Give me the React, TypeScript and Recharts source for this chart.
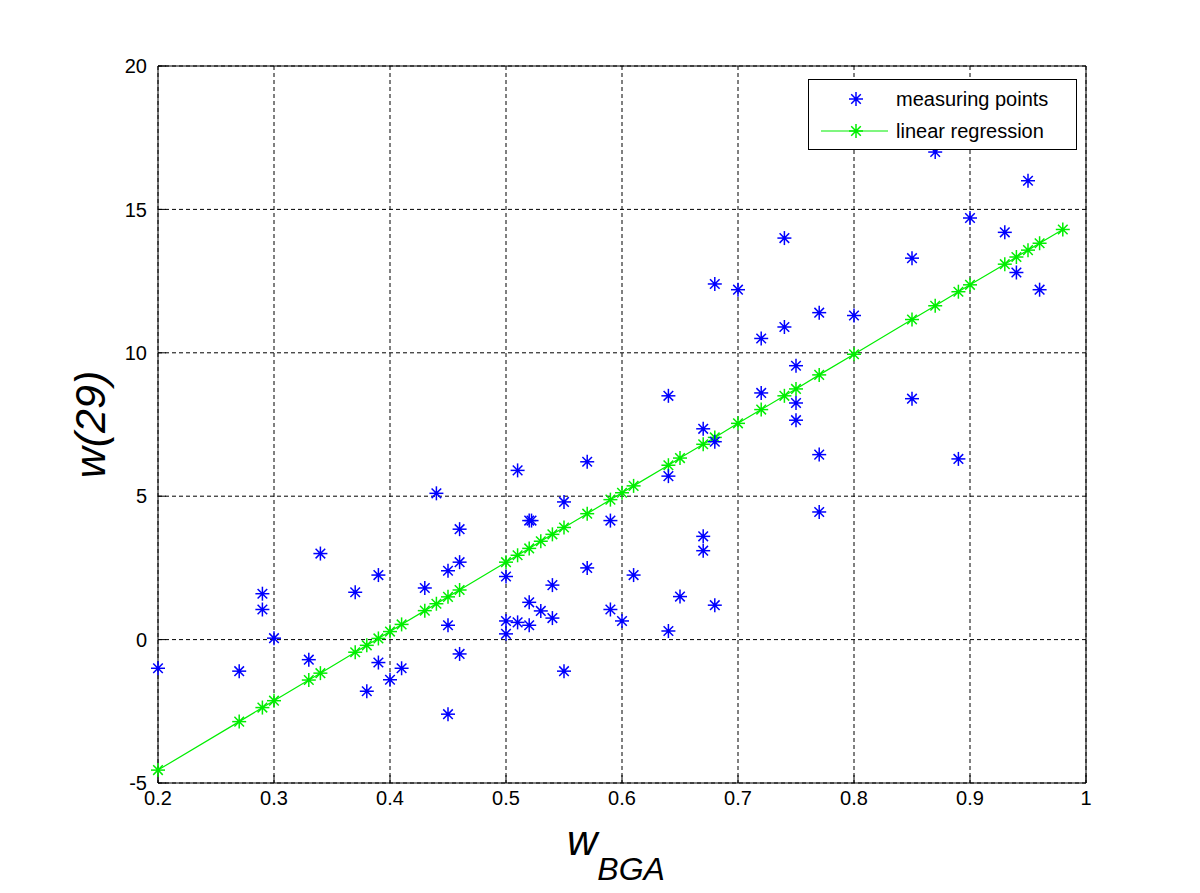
import { ScatterChart, Scatter, XAxis, YAxis, CartesianGrid, Legend } from 'recharts'

// measured points (w_BGA, w(29))
const measuredX = [
  0.2, 0.27, 0.29, 0.29, 0.3, 0.33, 0.34, 0.37, 0.38, 0.39, 0.39, 0.4, 0.41, 0.43, 0.44,
  0.45, 0.45, 0.45, 0.46, 0.46, 0.46, 0.5, 0.5, 0.5, 0.51, 0.51, 0.52, 0.522, 0.52, 0.52,
  0.53, 0.54, 0.54, 0.55, 0.55, 0.57, 0.57, 0.59, 0.59, 0.6, 0.61, 0.64, 0.64, 0.64, 0.65,
  0.67, 0.67, 0.67, 0.68, 0.68, 0.68, 0.7, 0.72, 0.72, 0.74, 0.74, 0.75, 0.75, 0.75, 0.77,
  0.77, 0.77, 0.8, 0.85, 0.85, 0.87, 0.89, 0.9, 0.93, 0.94, 0.95, 0.96,
]
const measuredY = [
  -1.0, -1.1, 1.6, 1.05, 0.05, -0.7, 3.0, 1.65, -1.8, 2.25, -0.8, -1.4, -1.0, 1.8, 5.1,
  2.4, 0.5, -2.6, 3.85, 2.7, -0.5, 2.2, 0.65, 0.2, 5.9, 0.6, 4.15, 4.15, 1.3, 0.5,
  1.0, 1.9, 0.75, 4.8, -1.1, 6.2, 2.5, 4.15, 1.05, 0.65, 2.25, 8.5, 5.7, 0.3, 1.5,
  7.35, 3.6, 3.1, 12.4, 6.9, 1.2, 12.2, 10.5, 8.6, 14.0, 10.9, 9.55, 8.25, 7.65, 11.4,
  6.45, 4.45, 11.3, 13.3, 8.4, 17.0, 6.3, 14.7, 14.2, 12.8, 16.0, 12.2,
]

// regression line
const fitX = [
  0.2, 0.27, 0.29, 0.3, 0.33, 0.34, 0.37, 0.38, 0.39, 0.4, 0.41, 0.43, 0.44, 0.45, 0.46,
  0.5, 0.51, 0.52, 0.53, 0.54, 0.55, 0.57, 0.59, 0.6, 0.61, 0.64, 0.65, 0.67, 0.68, 0.7,
  0.72, 0.74, 0.75, 0.77, 0.8, 0.85, 0.87, 0.89, 0.9, 0.93, 0.94, 0.95, 0.96, 0.98,
]
const fitY = [
  -4.55, -2.86, -2.37, -2.13, -1.41, -1.17, -0.44, -0.2, 0.04, 0.28, 0.53, 1.01, 1.25, 1.49, 1.73,
  2.7, 2.94, 3.18, 3.43, 3.67, 3.91, 4.39, 4.88, 5.12, 5.36, 6.08, 6.33, 6.81, 7.05, 7.54,
  8.02, 8.5, 8.74, 9.23, 9.95, 11.16, 11.64, 12.13, 12.37, 13.09, 13.34, 13.58, 13.82, 14.3,
]

const xTicks = [0.2, 0.3, 0.4, 0.5, 0.6, 0.7, 0.8, 0.9, 1]
const yTicks = [-5, 0, 5, 10, 15, 20]

const measured = measuredX.map((x, i) => ({ x, y: measuredY[i] }))
const fit = fitX.map((x, i) => ({ x, y: fitY[i] }))

const FONT = '"Liberation Sans", Arial, Helvetica, sans-serif'
const BLUE = '#0000ff'
const GREEN = '#00ee00'

function star(cx: number, cy: number, color: string) {
  const a = 7
  const d = 4.8
  return (
    <g stroke={color} strokeWidth={1.5}>
      <line x1={cx - a} y1={cy} x2={cx + a} y2={cy} />
      <line x1={cx} y1={cy - a} x2={cx} y2={cy + a} />
      <line x1={cx - d} y1={cy - d} x2={cx + d} y2={cy + d} />
      <line x1={cx - d} y1={cy + d} x2={cx + d} y2={cy - d} />
      <circle cx={cx} cy={cy} r={2} fill={color} stroke="none" />
    </g>
  )
}

const BlueStar = (p: any) => star(p.cx, p.cy, BLUE)
const GreenStar = (p: any) => star(p.cx, p.cy, GREEN)

function LegendBox() {
  return (
    <svg width={270} height={72} style={{ display: 'block' }}>
      <rect x={0.5} y={0.5} width={268} height={70} fill="#fff" stroke="#000" />
      {star(48, 20, BLUE)}
      <text x={88} y={27} fontFamily={FONT} fontSize={20} fill="#000">measuring points</text>
      <line x1={13} y1={52} x2={80} y2={52} stroke={GREEN} strokeWidth={1.2} />
      {star(48, 52, GREEN)}
      <text x={88} y={59} fontFamily={FONT} fontSize={20} fill="#000">linear regression</text>
    </svg>
  )
}

function XLabel(props: any) {
  const vb = props.viewBox
  const cx = vb.x + vb.width / 2
  return (
    <text x={cx - 55} y={855} fontFamily={FONT} fill="#000" fontStyle="italic">
      <tspan fontSize={42}>w</tspan>
      <tspan fontSize={32} dy={25} dx={0}>BGA</tspan>
    </text>
  )
}

function YLabel(props: any) {
  const vb = props.viewBox
  const cy = vb.y + vb.height / 2
  return (
    <text
      x={105}
      y={cy}
      transform={`rotate(-90 105 ${cy})`}
      textAnchor="middle"
      fontFamily={FONT}
      fontStyle="italic"
      fontSize={43}
      fill="#000"
    >
      w(29)
    </text>
  )
}

const tickStyle = { fontSize: 20, fill: '#000', fontFamily: FONT }

export default function App() {
  return (
    <div style={{ position: 'absolute', left: 0, top: 0, background: '#fff' }}>
      <ScatterChart width={1200} height={893} margin={{ top: 56, right: 104, bottom: 60, left: 98 }}>
        <CartesianGrid
          xAxisId="x"
          yAxisId="y"
          stroke="#000"
          strokeDasharray="4 3"
          horizontalValues={yTicks}
          verticalValues={xTicks}
        />
        <XAxis
          xAxisId="x"
          dataKey="x"
          type="number"
          domain={[0.2, 1]}
          ticks={xTicks}
          height={50}
          interval={0}
          tick={tickStyle}
          tickSize={-8}
          tickMargin={16}
          stroke="#000"
          axisLine={{ stroke: '#000' }}
          tickLine={{ stroke: '#000' }}
          label={<XLabel />}
        />
        <XAxis
          xAxisId="top"
          orientation="top"
          type="number"
          domain={[0.2, 1]}
          allowDataOverflow
          ticks={xTicks}
          height={10}
          tick={false}
          tickSize={-8}
          axisLine={{ stroke: '#000' }}
          tickLine={{ stroke: '#000' }}
        />
        <YAxis
          yAxisId="y"
          dataKey="y"
          type="number"
          domain={[-5, 20]}
          ticks={yTicks}
          width={60}
          interval={0}
          tick={tickStyle}
          tickSize={-8}
          tickMargin={19}
          axisLine={{ stroke: '#000' }}
          tickLine={{ stroke: '#000' }}
          label={<YLabel />}
        />
        <YAxis
          yAxisId="right"
          orientation="right"
          type="number"
          domain={[-5, 20]}
          allowDataOverflow
          ticks={yTicks}
          width={10}
          tick={false}
          tickSize={-8}
          axisLine={{ stroke: '#000' }}
          tickLine={{ stroke: '#000' }}
        />
        <Scatter
          xAxisId="x"
          yAxisId="y"
          name="linear regression"
          data={fit}
          shape={GreenStar}
          line={{ stroke: GREEN, strokeWidth: 1.2 }}
          isAnimationActive={false}
        />
        <Scatter
          xAxisId="x"
          yAxisId="y"
          name="measuring points"
          data={measured}
          shape={BlueStar}
          isAnimationActive={false}
        />
        <Legend
          layout="horizontal"
          verticalAlign="middle"
          align="center"
          content={<LegendBox />}
          wrapperStyle={{ position: 'absolute', left: 808, top: 79, width: 270, height: 72 }}
        />
      </ScatterChart>
    </div>
  )
}
